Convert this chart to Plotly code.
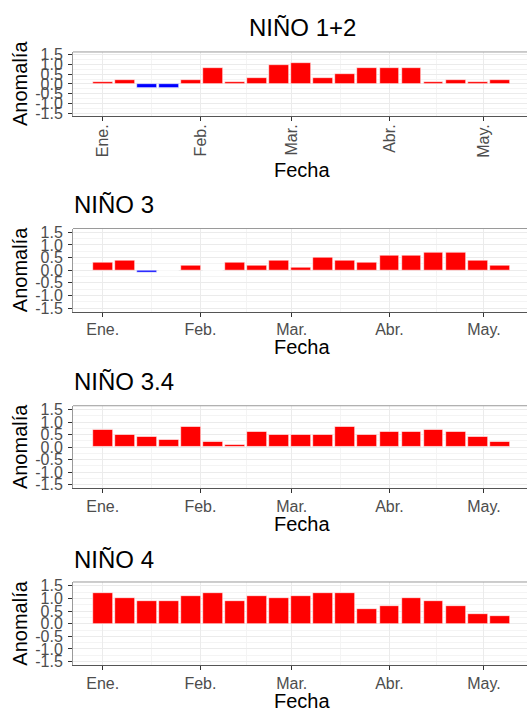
import plotly.graph_objects as go

W, H = 527, 715

fechas = ["2020-01-01", "2020-01-08", "2020-01-15", "2020-01-22", "2020-01-29",
          "2020-02-05", "2020-02-12", "2020-02-19", "2020-02-26", "2020-03-04",
          "2020-03-11", "2020-03-18", "2020-03-25", "2020-04-01", "2020-04-08",
          "2020-04-15", "2020-04-22", "2020-04-29", "2020-05-06"]

nino12 = [0.1, 0.2, -0.2, -0.2, 0.2, 0.8, 0.1, 0.3, 1.0, 1.1,
          0.3, 0.5, 0.8, 0.8, 0.8, 0.1, 0.2, 0.1, 0.2]
nino3 = [0.3, 0.4, -0.1, 0.0, 0.2, 0.0, 0.3, 0.2, 0.4, 0.1,
         0.5, 0.4, 0.3, 0.6, 0.6, 0.7, 0.7, 0.4, 0.2]
nino34 = [0.7, 0.5, 0.4, 0.3, 0.8, 0.2, 0.1, 0.6, 0.5, 0.5,
          0.5, 0.8, 0.5, 0.6, 0.6, 0.7, 0.6, 0.4, 0.2]
nino4 = [1.2, 1.0, 0.9, 0.9, 1.1, 1.2, 0.9, 1.1, 1.0, 1.1,
         1.2, 1.2, 0.6, 0.7, 1.0, 0.9, 0.7, 0.4, 0.3]

titulos = ["NIÑO 1+2", "NIÑO 3", "NIÑO 3.4", "NIÑO 4"]
series = [nino12, nino3, nino34, nino4]

mes_vals = ["2020-01-01", "2020-02-01", "2020-03-01", "2020-04-01", "2020-05-01"]
mes_text = ["Ene.", "Feb.", "Mar.", "Abr.", "May."]
mes_minor = ["2020-01-16 12:00", "2020-02-15 12:00", "2020-03-16 12:00", "2020-04-16"]

y_vals = [-1.5, -1.0, -0.5, 0.0, 0.5, 1.0, 1.5]
y_text = ["-1.5", "-1.0", "-0.5", "0.0", "0.5", "1.0", "1.5"]
y_minor = [-1.25, -0.75, -0.25, 0.25, 0.75, 1.25]

# panel pixel positions (top, bottom)
paneles = [(47.7, 112.7), (227.0, 311.7), (407.0, 491.0), (586.0, 670.7)]
titulo_y = [23.0, 203.0, 382.7, 562.7]
fecha_y = [167.5, 347.2, 527.0, 706.5]
x_left = 73.0

FONT = "Liberation Sans, Arial, sans-serif"
x_range = ["2019-12-22 13:40", "2020-05-14 16:00"]

fig = go.Figure()
layout = dict(
    width=W, height=H,
    margin=dict(l=0, r=0, t=0, b=0),
    paper_bgcolor="white", plot_bgcolor="white",
    showlegend=False, bargap=0,
    font=dict(family=FONT),
)
annotations = []
shapes = []

for i, (tit, vals) in enumerate(zip(titulos, series)):
    n = i + 1
    xa = "x" if n == 1 else f"x{n}"
    ya = "y" if n == 1 else f"y{n}"
    colores = ["#FF0000" if v >= 0 else "#0000FF" for v in vals]
    fig.add_trace(go.Bar(
        x=fechas, y=vals, xaxis=xa, yaxis=ya,
        marker=dict(color=colores, line=dict(color="white", width=0.6)),
        width=6.3 * 86400000,
    ))
    top, bot = paneles[i]
    dom_y = [1 - bot / H, 1 - top / H]
    xkey = "xaxis" if n == 1 else f"xaxis{n}"
    ykey = "yaxis" if n == 1 else f"yaxis{n}"
    layout[xkey] = dict(
        domain=[x_left / W, 1.0], anchor=ya, type="date",
        range=x_range, tickmode="array", tickvals=mes_vals, ticktext=mes_text,
        tickangle=-90 if n == 1 else 0,
        ticklabelstandoff=-3 if n == 1 else -1,
        ticks="outside", ticklen=4, tickcolor="#333333", tickwidth=1,
        tickfont=dict(size=16, color="#4D4D4D", family=FONT),
        showgrid=True, gridcolor="#EBEBEB", gridwidth=1,
        minor=dict(tickmode="array", tickvals=mes_minor, showgrid=True,
                   gridcolor="#F4F4F4", gridwidth=1, ticks=""),
        showline=True, linecolor="#555555", linewidth=1,
        zeroline=False, fixedrange=True,
    )
    layout[ykey] = dict(
        domain=dom_y, anchor=xa, range=[-1.65, 1.65],
        tickmode="array", tickvals=y_vals, ticktext=y_text,
        ticklabelstandoff=2,
        ticks="outside", ticklen=4, tickcolor="#333333", tickwidth=1,
        tickfont=dict(size=16, color="#4D4D4D", family=FONT),
        showgrid=True, gridcolor="#EBEBEB", gridwidth=1,
        minor=dict(tickmode="array", tickvals=y_minor, showgrid=True,
                   gridcolor="#F4F4F4", gridwidth=1, ticks=""),
        showline=True, linecolor="#9A9A9A", linewidth=1,
        zeroline=False, fixedrange=True,
    )
    # top border
    shapes.append(dict(type="line", xref="paper", yref="paper",
                       x0=x_left / W, x1=1.0, y0=dom_y[1], y1=dom_y[1],
                       line=dict(color="#9A9A9A", width=1)))
    # title
    if n == 1:
        annotations.append(dict(text=tit, xref="paper", yref="paper",
                                x=302 / W, y=1 - titulo_y[i] / H,
                                xanchor="center", yanchor="middle", showarrow=False,
                                font=dict(size=24, color="black", family=FONT)))
    else:
        annotations.append(dict(text=tit, xref="paper", yref="paper",
                                x=(x_left - 1) / W, y=1 - titulo_y[i] / H,
                                xanchor="left", yanchor="middle", showarrow=False,
                                font=dict(size=24, color="black", family=FONT)))
    annotations.append(dict(text="Fecha", xref="paper", yref="paper",
                            x=302 / W, y=1 - fecha_y[i] / H,
                            xanchor="center", yanchor="middle", showarrow=False,
                            font=dict(size=20, color="black", family=FONT)))
    annotations.append(dict(text="Anomalía", xref="paper", yref="paper",
                            x=20 / W, y=1 - (top + bot) / 2 / H,
                            xanchor="center", yanchor="middle", textangle=-90,
                            showarrow=False,
                            font=dict(size=20, color="black", family=FONT)))

layout["annotations"] = annotations
layout["shapes"] = shapes
fig.update_layout(**layout)
fig.write_html("out.html")
